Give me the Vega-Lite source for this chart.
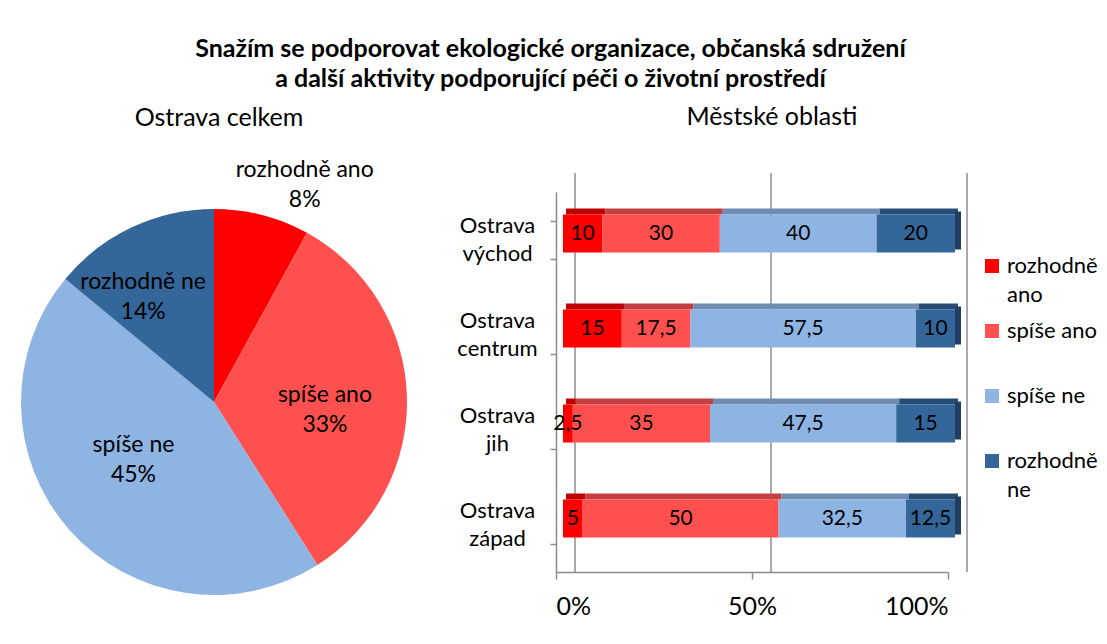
{
  "$schema": "https://vega.github.io/schema/vega-lite/v6.json",
  "padding": {"left": 21, "top": 37, "right": 5, "bottom": 5},
  "background": "white",
  "config": {
    "font": "Lato",
    "view": {"stroke": null},
    "locale": {"number": {"decimal": ",", "thousands": " ", "grouping": [3], "currency": ["", " Kč"]}},
    "style": {"guide-label": {"lineHeight": 29}}
  },
  "title": {
    "text": ["Snažím se podporovat ekologické organizace, občanská sdružení", "a další aktivity podporující péči o životní prostředí"],
    "fontSize": 25, "fontWeight": "bold", "font": "Lato", "lineHeight": 30, "anchor": "middle", "dx": -9, "offset": 13, "color": "black"
  },
  "datasets": {
    "celkem": [
      {"cat": "rozhodně ano", "value": 8, "order": 1},
      {"cat": "spíše ano", "value": 33, "order": 2},
      {"cat": "spíše ne", "value": 45, "order": 3},
      {"cat": "rozhodně ne", "value": 14, "order": 4}
    ],
    "oblasti": [
      {"region": "Ostrava východ", "cat": "rozhodně ano", "value": 10, "order": 1},
      {"region": "Ostrava východ", "cat": "spíše ano", "value": 30, "order": 2},
      {"region": "Ostrava východ", "cat": "spíše ne", "value": 40, "order": 3},
      {"region": "Ostrava východ", "cat": "rozhodně ne", "value": 20, "order": 4},
      {"region": "Ostrava centrum", "cat": "rozhodně ano", "value": 15, "order": 1},
      {"region": "Ostrava centrum", "cat": "spíše ano", "value": 17.5, "order": 2},
      {"region": "Ostrava centrum", "cat": "spíše ne", "value": 57.5, "order": 3},
      {"region": "Ostrava centrum", "cat": "rozhodně ne", "value": 10, "order": 4},
      {"region": "Ostrava jih", "cat": "rozhodně ano", "value": 2.5, "order": 1},
      {"region": "Ostrava jih", "cat": "spíše ano", "value": 35, "order": 2},
      {"region": "Ostrava jih", "cat": "spíše ne", "value": 47.5, "order": 3},
      {"region": "Ostrava jih", "cat": "rozhodně ne", "value": 15, "order": 4},
      {"region": "Ostrava západ", "cat": "rozhodně ano", "value": 5, "order": 1},
      {"region": "Ostrava západ", "cat": "spíše ano", "value": 50, "order": 2},
      {"region": "Ostrava západ", "cat": "spíše ne", "value": 32.5, "order": 3},
      {"region": "Ostrava západ", "cat": "rozhodně ne", "value": 12.5, "order": 4}
    ],
    "grid": [{"g": 0}, {"g": 50}, {"g": 100}]
  },
  "bounds": "flush",
  "spacing": 149,
  "resolve": {"legend": {"color": "independent"}},
  "hconcat": [
    {
      "width": 386,
      "height": 420,
      "title": {"text": "Ostrava celkem", "fontSize": 25, "fontWeight": "normal", "offset": 28, "dx": 5, "anchor": "middle", "color": "black"},
      "data": {"name": "celkem"},
      "transform": [
        {"stack": "value", "groupby": [], "sort": [{"field": "order"}], "as": ["t0", "t1"]},
        {"calculate": "(datum.t0 + datum.t1) / 2", "as": "mid"},
        {"calculate": "[datum.cat, datum.value + '%']", "as": "label"}
      ],
      "encoding": {
        "theta": {"field": "mid", "type": "quantitative", "scale": {"domain": [0, 100]}},
        "text": {"field": "label"}
      },
      "layer": [
        {
          "mark": {"type": "arc", "outerRadius": 193},
          "encoding": {
            "theta": {"field": "t0", "type": "quantitative", "scale": {"domain": [0, 100]}},
            "theta2": {"field": "t1"},
            "color": {
              "field": "cat", "type": "nominal",
              "scale": {"domain": ["rozhodně ano", "spíše ano", "spíše ne", "rozhodně ne"], "range": ["#FF0000", "#FF5050", "#8EB4E3", "#35669A"]},
              "legend": null
            }
          }
        },
        {
          "transform": [{"filter": "datum.cat == 'spíše ano'"}],
          "mark": {"type": "text", "radius": 110, "dx": 1, "dy": -4, "fontSize": 23, "lineHeight": 30, "color": "black", "font": "Lato"}
        },
        {
          "transform": [{"filter": "datum.cat == 'spíše ne'"}],
          "mark": {"type": "text", "radius": 110, "dx": 2, "dy": -30, "fontSize": 23, "lineHeight": 30, "color": "black", "font": "Lato"}
        },
        {
          "transform": [{"filter": "datum.cat == 'rozhodně ne'"}],
          "mark": {"type": "text", "radius": 110, "dx": -24, "dy": -20, "fontSize": 23, "lineHeight": 30, "color": "black", "font": "Lato"}
        },
        {
          "transform": [{"filter": "datum.cat == 'rozhodně ano'"}],
          "mark": {"type": "text", "radius": 220, "dx": 36, "dy": -19, "fontSize": 23, "lineHeight": 30, "color": "black", "font": "Lato"}
        }
      ]
    },
    {
      "width": 392,
      "height": 380,
      "title": {"text": "Městské oblasti", "fontSize": 25, "fontWeight": "normal", "offset": 42, "dx": 20, "anchor": "middle", "color": "black"},
      "layer": [
        {
          "data": {"name": "grid"},
          "mark": {"type": "rule", "color": "#8C8C8C", "strokeWidth": 1.5, "xOffset": 19, "yOffset": -19, "y2Offset": -19},
          "encoding": {
            "x": {"field": "g", "type": "quantitative", "scale": {"domain": [0, 100]},
              "axis": {"title": null, "values": [0, 50, 100], "labelExpr": "datum.value + '%'", "labelFontSize": 25, "labelColor": "black", "labelPadding": 15, "tickSize": 7, "tickColor": "#8C8C8C", "domainColor": "#8C8C8C", "domainWidth": 1.5, "tickWidth": 1.5, "grid": false}}
          }
        },
        {
          "data": {"name": "oblasti"},
          "transform": [
            {"stack": "value", "groupby": ["region"], "sort": [{"field": "order"}], "as": ["x0", "x1"]},
            {"calculate": "(datum.x0 + datum.x1) / 2", "as": "mid"}
          ],
          "encoding": {
            "y": {"field": "region", "type": "nominal",
              "sort": ["Ostrava východ", "Ostrava centrum", "Ostrava jih", "Ostrava západ"],
              "scale": {"paddingInner": 0.6, "paddingOuter": 0.3},
              "axis": {"title": null, "labelExpr": "split(datum.label, ' ')", "labelAlign": "center", "labelPadding": 53, "labelOffset": -14, "labelFontSize": 22, "labelLineHeight": 28, "labelColor": "black", "tickSize": 6, "tickColor": "#8C8C8C", "tickBand": "extent", "domainColor": "#8C8C8C", "domainWidth": 1.5, "tickWidth": 1.5}}
          },
          "layer": [
            {
              "mark": {"type": "bar", "height": 6, "yOffset": -28, "xOffset": 10, "x2Offset": 10},
              "encoding": {
                "x": {"field": "x0", "type": "quantitative"},
                "x2": {"field": "x1"},
                "fill": {"field": "cat", "type": "nominal",
                  "scale": {"domain": ["rozhodně ano", "spíše ano", "spíše ne", "rozhodně ne"], "range": ["#C00000", "#C44040", "#6F8DB3", "#274D75"]},
                  "legend": null}
              }
            },
            {
              "transform": [{"filter": "datum.cat == 'rozhodně ne'"}],
              "mark": {"type": "bar", "color": "#203E60", "yOffset": -9, "xOffset": 7, "x2Offset": 13},
              "encoding": {
                "x": {"field": "x1", "type": "quantitative"},
                "x2": {"field": "x1"}
              }
            },
            {
              "mark": {"type": "bar", "yOffset": -6, "xOffset": 7, "x2Offset": 7},
              "encoding": {
                "x": {"field": "x0", "type": "quantitative"},
                "x2": {"field": "x1"},
                "color": {"field": "cat", "type": "nominal",
                  "scale": {"domain": ["rozhodně ano", "spíše ano", "spíše ne", "rozhodně ne"], "range": ["#FF0000", "#FF5050", "#8EB4E3", "#35669A"]},
                  "legend": {"title": null, "orient": "none", "legendX": 425, "legendY": 63, "symbolType": "square", "symbolSize": 196, "symbolStrokeWidth": 0, "labelFontSize": 22, "labelColor": "black", "labelBaseline": "middle", "labelLimit": 200, "gridAlign": "all", "rowPadding": 14, "labelExpr": "indexof(datum.label, 'rozhodně') == 0 ? split(datum.label, ' ') : datum.label"}}
              }
            },
            {
              "mark": {"type": "text", "dx": 7, "dy": -6, "fontSize": 21, "color": "black", "font": "Lato"},
              "encoding": {
                "x": {"field": "mid", "type": "quantitative"},
                "text": {"field": "value", "type": "quantitative", "format": ".1~f"}
              }
            }
          ]
        }
      ]
    }
  ]
}
